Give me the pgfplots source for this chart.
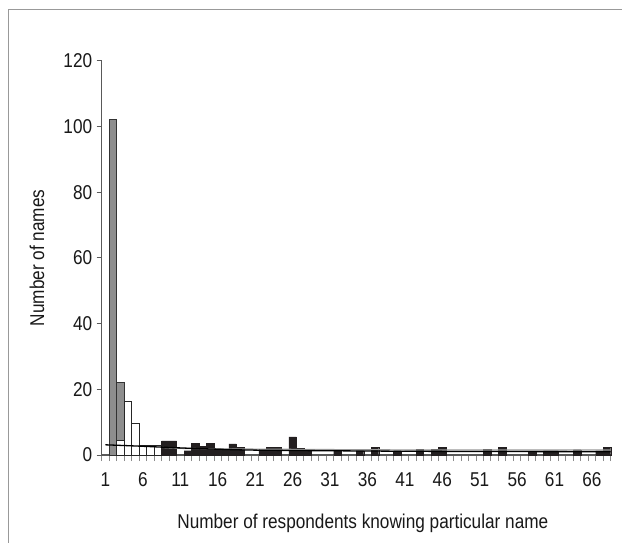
\documentclass[border=0pt]{standalone}
\usepackage{pgfplots}
\pgfplotsset{compat=1.18}
\usepackage{fontspec}
\setmainfont{Liberation Sans}[FakeStretch=0.86]
\definecolor{barblack}{HTML}{231F20}
\definecolor{bargray}{HTML}{8E8E8E}
\begin{document}
\begin{tikzpicture}[x=1pt,y=1pt]
\useasboundingbox (-101.7,-87) rectangle (520.3,455);
\fill[white] (-101.7,-87) rectangle (520.3,455);
\draw[black!40, line width=1pt] (-92.7,-88) -- (-92.7,445) -- (521,445);
\begin{axis}[at={(0,0)}, anchor=south west, scale only axis,
  width=509pt, height=394.3pt,
  xmin=0, xmax=68, ymin=0, ymax=120,
  axis lines*=left, axis line style={black!65, line width=1.1pt},
  ytick={0,20,...,120},
  xtick={0.5,5.5,...,65.5},
  xticklabels={1,6,11,16,21,26,31,36,41,46,51,56,61,66},
  minor xtick={0,1,...,68},
  tick align=outside,
  major x tick style={draw=none},
  minor x tick style={black!45, line width=0.9pt},
  minor tick length=6pt,
  major tick length=5pt,
  y tick style={black!65, line width=1pt},
  /pgf/number format/assume math mode=true,
  tick label style={font=\fontsize{20}{22}\selectfont, black!90},
  xticklabel style={yshift=-9pt},
  yticklabel style={xshift=-1pt},
  label style={font=\fontsize{20}{22}\selectfont, black!90},
  xlabel={Number of respondents knowing particular name},
  ylabel={Number of names},
  x label style={at={(axis description cs:0.513,-0.1725)}, anchor=center},
  y label style={at={(axis description cs:-0.127,0.5)}, anchor=center},
  clip=false]
% gray series
\addplot[ybar, bar width=1, bar shift=0pt, fill=bargray, draw=black!80, line width=0.8pt]
  coordinates {(1.5,102) (2.5,22)};
% white series
\addplot[ybar, bar width=1, bar shift=0pt, fill=white, draw=black!85, line width=0.8pt]
  coordinates {(2.5,4.5) (3.5,16.4) (4.5,9.7) (5.5,2.8) (6.5,2.9) (7.5,3.0)};
% black series
\addplot[ybar, bar width=1, bar shift=0pt, fill=barblack, draw=barblack, line width=0.3pt]
  coordinates {(8.5,4.3) (9.5,4.3) (11.5,1.3) (12.5,3.6) (13.5,2.7) (14.5,3.6)
  (15.5,1.6) (16.5,1.6) (17.5,3.4) (18.5,2.4) (21.5,1.8) (22.5,2.4) (23.5,2.4)
  (25.5,5.5) (26.5,2.1) (27.5,1.3) (31.5,1.3) (34.5,1.3) (36.5,2.4) (39.5,1.3)
  (42.5,1.8) (44.5,1.8) (45.5,2.4) (51.5,1.8) (53.5,2.4) (57.5,1.2) (59.5,1.3)
  (60.5,1.3) (63.5,1.6) (66.5,1.3) (67.5,2.4)};
% trend lines
\addplot[black!40, line width=1.2pt, smooth] coordinates
  {(8,2.3) (11,2.0) (20,1.8) (35,1.6) (50,1.5) (68,1.5)};
\addplot[black, line width=1.3pt, smooth] coordinates
  {(0.5,3.1) (5,2.7) (10,2.2) (15,1.8) (20,1.5) (30,1.3) (45,1.1) (68,1.0)};
\end{axis}
\end{tikzpicture}
\end{document}
